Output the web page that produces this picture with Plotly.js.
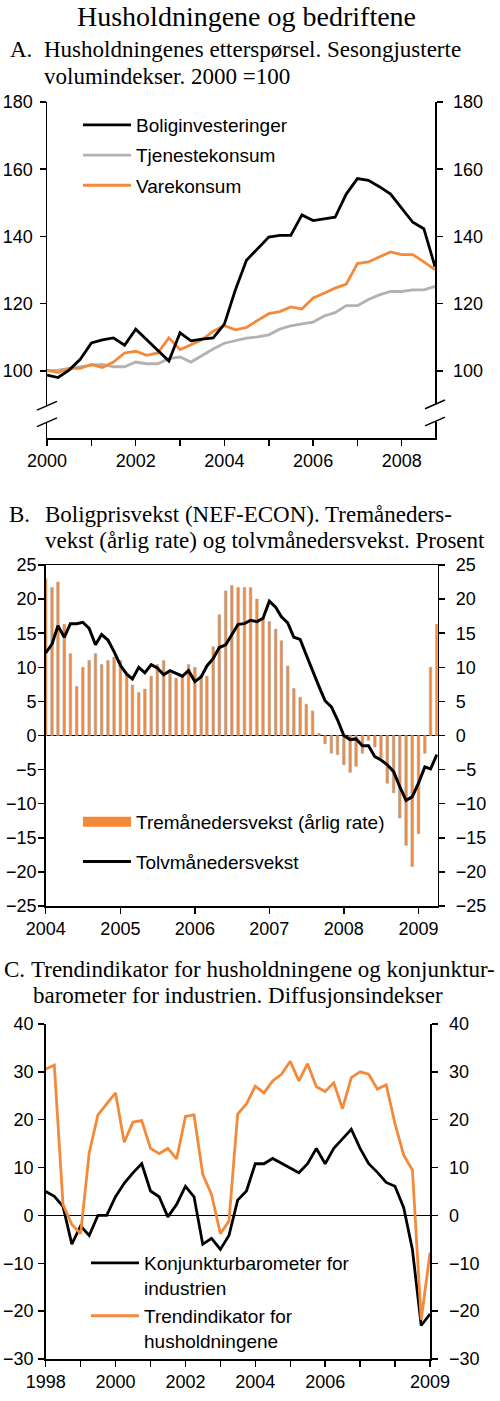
<!DOCTYPE html>
<html><head><meta charset="utf-8">
<script src="https://cdn.plot.ly/plotly-3.0.1.min.js"></script>
<style>html,body{margin:0;padding:0;background:#fff}#chart{width:500px;height:1401px}</style>
</head><body><div id="chart"></div>
<script>
// ---------- Panel A: quarterly volume indices, 2000 = 100 ----------
const quartersA = ['2000-01','2000-04','2000-07','2000-10','2001-01','2001-04','2001-07','2001-10',
  '2002-01','2002-04','2002-07','2002-10','2003-01','2003-04','2003-07','2003-10',
  '2004-01','2004-04','2004-07','2004-10','2005-01','2005-04','2005-07','2005-10',
  '2006-01','2006-04','2006-07','2006-10','2007-01','2007-04','2007-07','2007-10',
  '2008-01','2008-04','2008-07','2008-10'];
const boliginvesteringer = [98.7,98.0,100.2,103.4,108.3,109.2,109.8,107.6,112.4,109.2,106.0,102.9,
  111.3,108.9,109.4,109.8,113.9,124.1,132.9,136.4,139.8,140.3,140.3,146.4,144.7,145.2,145.7,152.6,
  157.2,156.7,154.8,152.6,148.4,144.2,142.3,131.0];
const tjenestekonsum = [100.0,100.2,100.7,101.2,101.7,101.9,101.2,101.2,102.6,102.1,102.1,103.6,
  104.1,102.6,104.6,106.5,108.2,109.0,109.7,110.1,110.7,112.4,113.4,114.0,114.5,116.3,117.3,119.4,
  119.4,121.2,122.6,123.6,123.6,124.1,124.1,125.1];
const varekonsum = [100.2,99.5,100.7,100.7,101.9,101.0,102.6,105.3,105.8,104.6,105.3,109.8,
  106.3,107.8,109.2,111.8,113.4,112.2,112.9,115.0,117.0,117.6,119.0,118.4,121.7,123.1,124.6,125.8,
  131.9,132.4,133.9,135.4,134.6,134.6,132.4,130.1];
const tickValsA = ['2000-01-01','2001-01-01','2002-01-01','2003-01-01','2004-01-01','2005-01-01','2006-01-01','2007-01-01','2008-01-01'];
const tickTextA = ['2000','','2002','','2004','','2006','','2008'];
const yTicksA = [100,120,140,160,180];

// ---------- Panel B: monthly house price growth ----------
const monthsB = ['2004-01','2004-02','2004-03','2004-04','2004-05','2004-06','2004-07','2004-08','2004-09','2004-10','2004-11','2004-12',
  '2005-01','2005-02','2005-03','2005-04','2005-05','2005-06','2005-07','2005-08','2005-09','2005-10','2005-11','2005-12',
  '2006-01','2006-02','2006-03','2006-04','2006-05','2006-06','2006-07','2006-08','2006-09','2006-10','2006-11','2006-12',
  '2007-01','2007-02','2007-03','2007-04','2007-05','2007-06','2007-07','2007-08','2007-09','2007-10','2007-11','2007-12',
  '2008-01','2008-02','2008-03','2008-04','2008-05','2008-06','2008-07','2008-08','2008-09','2008-10','2008-11','2008-12',
  '2009-01','2009-02','2009-03','2009-04'];
const tremanedersvekst = [23.0,21.7,22.5,16.3,12.0,7.2,10.0,11.0,12.0,10.4,11.0,11.5,
  11.0,9.0,7.4,6.3,6.8,8.7,10.4,11.0,9.1,8.4,8.6,10.4,
  10.0,8.9,8.7,13.0,17.7,21.2,22.0,21.7,21.7,21.7,20.0,17.2,
  16.7,15.6,13.9,10.2,6.9,5.6,4.6,3.6,0.3,-1.2,-2.6,-2.8,
  -4.3,-5.4,-4.5,-2.6,-0.7,-1.7,-3.3,-7.0,-8.4,-12.1,-16.1,-19.2,
  -14.4,-2.6,10.0,16.3];
const tolvmanedersvekst = [12.1,13.4,16.1,14.4,16.4,16.4,16.6,15.7,13.3,14.8,14.0,12.3,
  10.3,9.0,8.3,10.0,9.2,10.4,9.9,8.9,9.5,9.1,8.7,9.5,
  7.9,8.6,10.2,11.3,12.9,13.3,14.7,16.3,16.4,16.9,16.7,17.2,
  19.7,18.8,17.4,16.5,14.4,14.1,11.8,9.4,7.2,5.1,4.2,2.3,
  0.0,-0.6,-0.5,-1.5,-1.5,-3.1,-3.6,-4.3,-5.3,-7.5,-9.5,-9.0,
  -7.0,-4.6,-4.9,-2.8];
const tickValsB = ['2004-01-01','2005-01-01','2006-01-01','2007-01-01','2008-01-01','2009-01-01'];
const tickTextB = ['2004','2005','2006','2007','2008','2009'];

// ---------- Panel C: diffusion indices, quarterly ----------
const quartersC = ['1998-01','1998-04','1998-07','1998-10','1999-01','1999-04','1999-07','1999-10',
  '2000-01','2000-04','2000-07','2000-10','2001-01','2001-04','2001-07','2001-10',
  '2002-01','2002-04','2002-07','2002-10','2003-01','2003-04','2003-07','2003-10',
  '2004-01','2004-04','2004-07','2004-10','2005-01','2005-04','2005-07','2005-10',
  '2006-01','2006-04','2006-07','2006-10','2007-01','2007-04','2007-07','2007-10',
  '2008-01','2008-04','2008-07','2008-10','2009-01'];
const konjunkturbarometer = [5.0,4.0,1.9,-6.0,-2.2,-4.2,0.0,0.0,3.9,6.7,
  8.9,10.8,5.1,3.9,-0.3,2.3,6.1,3.9,-6.0,-4.8,
  -7.1,-4.2,3.2,5.1,10.8,10.8,11.9,10.9,10.0,8.9,
  10.8,14.0,10.8,14.0,16.0,18.0,14.0,10.8,9.0,6.9,
  6.1,1.6,-7.1,-23.0,-20.6];
const trendindikator = [30.6,31.4,2.3,-1.9,-3.8,13.1,21.0,23.3,25.6,15.3,
  19.5,19.8,14.0,12.9,14.0,11.8,20.7,21.0,8.6,4.4,
  -3.8,-1.2,21.2,23.3,27.0,25.6,28.1,29.5,32.2,28.1,
  31.7,26.9,25.9,27.7,22.3,28.8,30.0,29.5,26.4,27.3,
  19.2,12.6,9.5,-21.8,-7.8];
const tickValsC = ['1998-01-01','1999-01-01','2000-01-01','2001-01-01','2002-01-01','2003-01-01','2004-01-01','2005-01-01','2006-01-01','2007-01-01','2008-01-01','2009-01-01'];
const tickTextC = ['1998','','2000','','2002','','2004','','2006','','','2009'];

// ---------- styling ----------
const W = 500, H = 1401;
const px = v => v / W;            // horizontal pixel -> paper
const py = v => 1 - v / H;        // vertical pixel -> paper
const BLACK = '#000000', GRAY = '#b2b2b2', ORANGE = '#f5893a';
const sans = 'Liberation Sans, Arial, sans-serif';
const serif = 'Liberation Serif, Times New Roman, serif';
const tickFont = {family: sans, size: 18, color: BLACK};
const legFont = {family: sans, size: 19, color: BLACK};

const baseX = {type: 'date', showgrid: false, zeroline: false, showline: true, linecolor: BLACK, linewidth: 1.5,
  ticks: 'outside', ticklen: 6, tickwidth: 1.5, tickcolor: BLACK, tickmode: 'array', tickfont: tickFont,
  automargin: false, fixedrange: true};
const baseY = {showgrid: false, showline: true, linecolor: BLACK, linewidth: 1.5, ticks: 'outside', ticklen: 6,
  tickwidth: 1.5, tickcolor: BLACK, tickfont: tickFont, automargin: false, fixedrange: true};

const traces = [
  // Panel A
  {x: quartersA, y: tjenestekonsum, name: 'Tjenestekonsum', type: 'scatter', mode: 'lines',
   line: {color: GRAY, width: 2.8}, xaxis: 'x', yaxis: 'y', legend: 'legend', legendgroup: 'a2', legendrank: 2},
  {x: quartersA, y: varekonsum, name: 'Varekonsum', type: 'scatter', mode: 'lines',
   line: {color: ORANGE, width: 2.8}, xaxis: 'x', yaxis: 'y', legend: 'legend', legendgroup: 'a3', legendrank: 3},
  {x: quartersA, y: boliginvesteringer, name: 'Boliginvesteringer', type: 'scatter', mode: 'lines',
   line: {color: BLACK, width: 2.8}, xaxis: 'x', yaxis: 'y4', legend: 'legend', legendgroup: 'a1', legendrank: 1},
  // Panel B
  {x: monthsB, y: tremanedersvekst, name: 'Tremånedersvekst (årlig rate)', type: 'bar', showlegend: false,
   marker: {color: ORANGE, line: {color: '#a8a8a8', width: 0.6}}, xaxis: 'x2', yaxis: 'y2', legendgroup: 'b1'},
  // legend-only key for the bars (wide orange block, as in the original)
  {x: [monthsB[0]], y: [null], name: 'Tremånedersvekst (årlig rate)', type: 'scatter', mode: 'lines',
   line: {color: ORANGE, width: 10}, xaxis: 'x2', yaxis: 'y2', legend: 'legend2', legendgroup: 'b1', legendrank: 1},
  {x: monthsB, y: tolvmanedersvekst, name: 'Tolvmånedersvekst', type: 'scatter', mode: 'lines',
   line: {color: BLACK, width: 3}, xaxis: 'x2', yaxis: 'y5', legend: 'legend2', legendgroup: 'b2', legendrank: 2},
  // Panel C
  {x: quartersC, y: konjunkturbarometer, name: 'Konjunkturbarometer for<br>industrien', type: 'scatter', mode: 'lines',
   line: {color: BLACK, width: 2.8}, xaxis: 'x3', yaxis: 'y3', legend: 'legend3', legendgroup: 'c1'},
  {x: quartersC, y: trendindikator, name: 'Trendindikator for<br>husholdningene', type: 'scatter', mode: 'lines',
   line: {color: ORANGE, width: 2.8}, xaxis: 'x3', yaxis: 'y6', legend: 'legend3', legendgroup: 'c2'}
];

const domA = [py(438), py(102)], domB = [py(906), py(565)], domC = [py(1359), py(1024)];
const rngA = [80, 180], rngB = [-25, 25], rngC = [-30, 40];

const legendBase = {bgcolor: 'rgba(0,0,0,0)', borderwidth: 0, font: legFont, xanchor: 'left', yanchor: 'top',
  traceorder: 'grouped', itemwidth: 48, itemclick: false, itemdoubleclick: false, valign: 'top'};

function ann(text, x, y, size, anchor) {
  return {text: text, x: px(x), y: py(y), xref: 'paper', yref: 'paper', xanchor: anchor || 'left', yanchor: 'middle',
    showarrow: false, font: {family: serif, size: size, color: BLACK}};
}

// break marks on panel A axes (decoration)
function brk(xc, yTop, yBot) {
  return [
    {type: 'rect', xref: 'paper', yref: 'y', x0: px(xc - 4), x1: px(xc + 4), y0: yBot, y1: yTop,
     fillcolor: '#ffffff', line: {width: 0}, layer: 'above'},
    {type: 'line', xref: 'paper', yref: 'y', x0: px(xc - 10), x1: px(xc + 10), y0: yTop - 1.3, y1: yTop + 1.3,
     line: {color: BLACK, width: 1.5}, layer: 'above'},
    {type: 'line', xref: 'paper', yref: 'y', x0: px(xc - 10), x1: px(xc + 10), y0: yBot - 1.3, y1: yBot + 1.3,
     line: {color: BLACK, width: 1.5}, layer: 'above'}
  ];
}

const layout = {
  width: W, height: H, margin: {l: 0, r: 0, t: 0, b: 0}, paper_bgcolor: '#fff', plot_bgcolor: 'rgba(0,0,0,0)',
  showlegend: true, bargap: 0.55, hovermode: false,
  xaxis: Object.assign({}, baseX, {domain: [px(47), px(435)], anchor: 'y', range: ['2000-01-01', '2008-10-01'],
    tickvals: tickValsA, ticktext: tickTextA}),
  yaxis: Object.assign({}, baseY, {domain: domA, anchor: 'x', range: rngA, tickmode: 'array', tickvals: yTicksA,
    zeroline: false, ticklabelstandoff: 3}),
  yaxis4: Object.assign({}, baseY, {overlaying: 'y', side: 'right', anchor: 'x', range: rngA, tickmode: 'array', tickvals: yTicksA,
    zeroline: false, ticklabelstandoff: 7}),

  xaxis2: Object.assign({}, baseX, {domain: [px(45.7), px(437.7)], anchor: 'y2', range: ['2004-01-01', '2009-04-05'],
    tickvals: tickValsB, ticktext: tickTextB, mirror: true}),
  yaxis2: Object.assign({}, baseY, {domain: domB, anchor: 'x2', range: rngB, tickmode: 'linear', tick0: 0, dtick: 5,
    zeroline: true, zerolinecolor: BLACK, zerolinewidth: 1.5, ticklabelstandoff: -2}),
  yaxis5: Object.assign({}, baseY, {overlaying: 'y2', side: 'right', anchor: 'x2', range: rngB, tickmode: 'linear', tick0: 0, dtick: 5,
    zeroline: false, ticklabelstandoff: 7}),

  xaxis3: Object.assign({}, baseX, {domain: [px(45.7), px(430)], anchor: 'y3', range: ['1998-01-01', '2009-01-01'],
    tickvals: tickValsC, ticktext: tickTextC}),
  yaxis3: Object.assign({}, baseY, {domain: domC, anchor: 'x3', range: rngC, tickmode: 'linear', tick0: 0, dtick: 10,
    zeroline: true, zerolinecolor: BLACK, zerolinewidth: 1, ticklabelstandoff: 1}),
  yaxis6: Object.assign({}, baseY, {overlaying: 'y3', side: 'right', anchor: 'x3', range: rngC, tickmode: 'linear', tick0: 0, dtick: 10,
    zeroline: false, ticklabelstandoff: 8}),

  legend: Object.assign({}, legendBase, {x: px(78), y: py(106), tracegroupgap: 2.5}),
  legend2: Object.assign({}, legendBase, {x: px(78), y: py(803), tracegroupgap: 12}),
  legend3: Object.assign({}, legendBase, {x: px(86), y: py(1244), tracegroupgap: 0.5}),

  annotations: [
    ann('Husholdningene og bedriftene', 246, 16, 28, 'center'),
    ann('A.', 8, 49.5, 23), ann('Husholdningenes etterspørsel. Sesongjusterte', 42, 49.5, 23),
    ann('volumindekser. 2000 =100', 42, 76, 23),
    ann('B.', 7, 514.5, 23), ann('Boligprisvekst (NEF-ECON). Tremåneders-', 43, 514.5, 23),
    ann('vekst (årlig rate) og tolvmånedersvekst. Prosent', 43, 540.5, 23),
    ann('C.', 2, 969.5, 23), ann('Trendindikator for husholdningene og konjunktur-', 29, 969.5, 23),
    ann('barometer for industrien. Diffusjonsindekser', 30.5, 995.5, 23)
  ],
  shapes: [].concat(brk(47, 89.6, 84.7), brk(435, 90.0, 84.9))
};

Plotly.newPlot('chart', traces, layout, {displayModeBar: false, staticPlot: true});
</script>
</body></html>
